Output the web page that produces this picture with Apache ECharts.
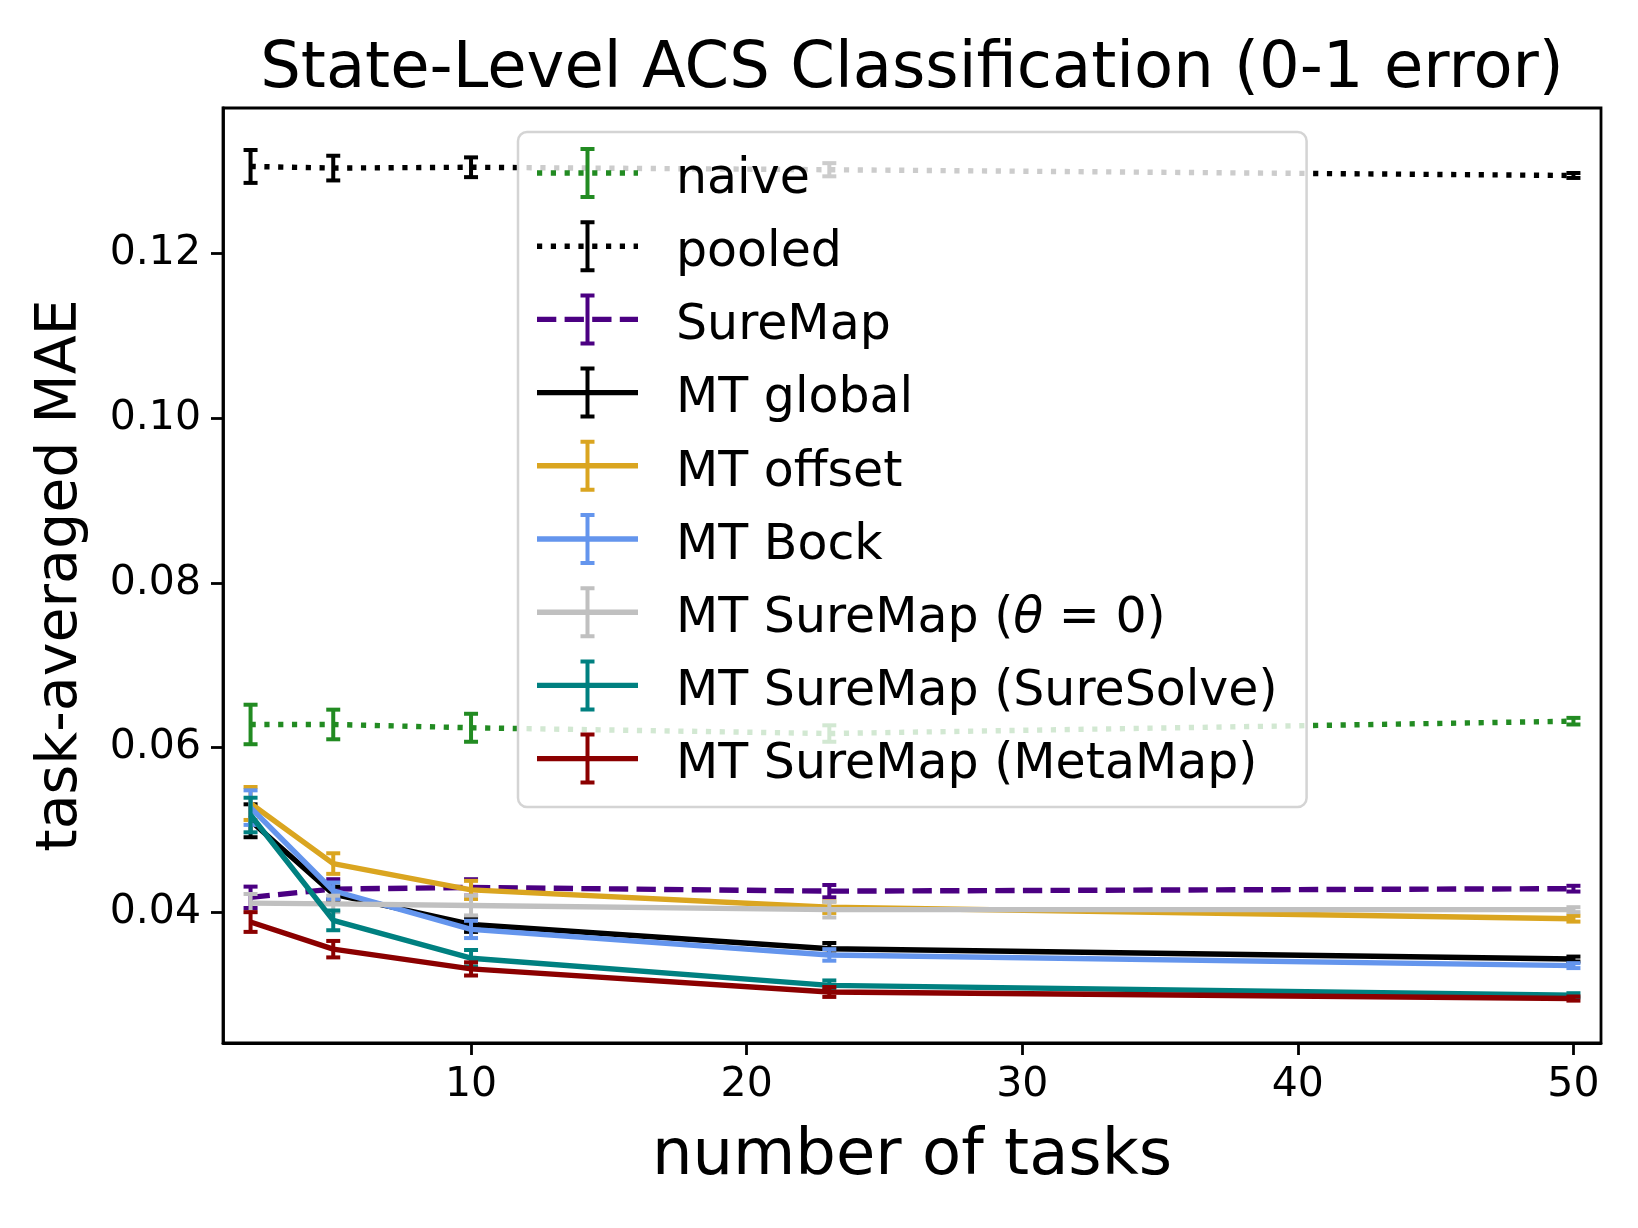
<!DOCTYPE html>
<html>
<head>
<meta charset="utf-8">
<title>State-Level ACS Classification (0-1 error)</title>
<script src="https://cdn.jsdelivr.net/npm/echarts@6/dist/echarts.min.js"></script>
<style>
  html, body { margin: 0; padding: 0; background: #fff; }
  #chart { width: 1638px; height: 1228px; }
</style>
</head>
<body>
<div id="chart"></div>
<script>
// number of tasks
var tasks = [2, 5, 10, 23, 50];
var xTicks = [10, 20, 30, 40, 50];
var yTicks = [0.04, 0.06, 0.08, 0.10, 0.12];

// task-averaged MAE (mean) and error bar half-widths
var naive      = [0.0628, 0.0628, 0.0624, 0.0617, 0.0632];
var naiveErr   = [0.0024, 0.0018, 0.0017, 0.0010, 0.0004];
var pooled     = [0.1306, 0.1304, 0.1305, 0.1302, 0.1295];
var pooledErr  = [0.0020, 0.0015, 0.0012, 0.0008, 0.0003];
var sureMap    = [0.0418, 0.0428, 0.0430, 0.04255, 0.04285];
var sureMapErr = [0.0013, 0.0012, 0.0010, 0.00075, 0.00035];
var mtGlobal   = [0.0511, 0.0422, 0.0385, 0.03555, 0.0343];
var mtGlobalErr= [0.0020, 0.0009, 0.0009, 0.0007, 0.0003];
var mtOffset   = [0.0532, 0.0459, 0.0427, 0.0406, 0.0392];
var mtOffsetErr= [0.0020, 0.00125, 0.0011, 0.0007, 0.00035];
var mtBock     = [0.0527, 0.0426, 0.0379, 0.0348, 0.0335];
var mtBockErr  = [0.0021, 0.0010, 0.00105, 0.0007, 0.0003];
var mtZero     = [0.0411, 0.0410, 0.0408, 0.0403, 0.0403];
var mtZeroErr  = [0.0011, 0.0010, 0.0012, 0.00095, 0.0003];
var mtSolve    = [0.0518, 0.0390, 0.0344, 0.0311, 0.0299];
var mtSolveErr = [0.0021, 0.0012, 0.0010, 0.0006, 0.00025];
var mtMeta     = [0.0388, 0.0355, 0.0331, 0.0303, 0.0295];
var mtMetaErr  = [0.0012, 0.0010, 0.0008, 0.0006, 0.00025];

var methods = [
  { name: 'naive',                     mean: naive,    err: naiveErr,    color: '#228B22', dash: 'dotted' },
  { name: 'pooled',                    mean: pooled,   err: pooledErr,   color: '#000000', dash: 'dotted' },
  { name: 'SureMap',                   mean: sureMap,  err: sureMapErr,  color: '#4B0082', dash: 'dashed' },
  { name: 'MT global',                 mean: mtGlobal, err: mtGlobalErr, color: '#000000', dash: 'solid' },
  { name: 'MT offset',                 mean: mtOffset, err: mtOffsetErr, color: '#DAA520', dash: 'solid' },
  { name: 'MT Bock',                   mean: mtBock,   err: mtBockErr,   color: '#6495ED', dash: 'solid' },
  { name: 'MT SureMap (θ = 0)',        mean: mtZero,   err: mtZeroErr,   color: '#C0C0C0', dash: 'solid' },
  { name: 'MT SureMap (SureSolve)',    mean: mtSolve,  err: mtSolveErr,  color: '#008080', dash: 'solid' },
  { name: 'MT SureMap (MetaMap)',      mean: mtMeta,   err: mtMetaErr,   color: '#8B0000', dash: 'solid' }
];

var FONT = 'DejaVu Sans';
var LW = 5.4;
var DOT = [5.2, 8.6];
var DASH = [19.3, 8.3];

// legend handle: line segments + error bar, drawn in a 101x52 box
function handlePath(dash) {
  var p = '';
  if (dash === 'solid') {
    p += 'M0,23.3h101v5.4h-101z ';
  } else {
    var pat = dash === 'dotted' ? DOT : DASH;
    for (var x = 0; x < 101; x += pat[0] + pat[1]) {
      var w = Math.min(pat[0], 101 - x);
      p += 'M' + x + ',23.3h' + w + 'v5.4h-' + w + 'z ';
    }
  }
  p += 'M48.5,0h4v52h-4z M43.5,0h14v4h-14z M43.5,48h14v4h-14z';
  return 'path://' + p;
}

function errRender(color) {
  return function (params, api) {
    var x = api.value(0);
    var lo = api.coord([x, api.value(1)]);
    var hi = api.coord([x, api.value(2)]);
    var cap = 7;
    var st = { stroke: color, lineWidth: 4 };
    return {
      type: 'group',
      children: [
        { type: 'line', shape: { x1: lo[0], y1: lo[1], x2: hi[0], y2: hi[1] }, style: st },
        { type: 'line', shape: { x1: lo[0] - cap, y1: lo[1], x2: lo[0] + cap, y2: lo[1] }, style: st },
        { type: 'line', shape: { x1: hi[0] - cap, y1: hi[1], x2: hi[0] + cap, y2: hi[1] }, style: st }
      ]
    };
  };
}

var series = [];
var legendData = [];
methods.forEach(function (m, i) {
  var lineData = tasks.map(function (t, j) { return [t, m.mean[j]]; });
  var errData = tasks.map(function (t, j) { return [t, m.mean[j] - m.err[j], m.mean[j] + m.err[j]]; });
  series.push({
    name: m.name,
    type: 'line',
    data: lineData,
    symbol: 'none',
    showSymbol: false,
    z: 10 + i,
    color: m.color,
    lineStyle: {
      color: m.color,
      width: LW,
      type: m.dash === 'solid' ? 'solid' : (m.dash === 'dotted' ? DOT : DASH),
      cap: 'butt'
    },
    itemStyle: { color: m.color },
    animation: false
  });
  series.push({
    name: m.name,
    type: 'custom',
    data: errData,
    encode: { x: 0, y: [1, 2] },
    renderItem: errRender(m.color),
    z: 10 + i,
    itemStyle: { color: m.color },
    animation: false
  });
  legendData.push({ name: m.name, icon: handlePath(m.dash) });
});

var chart = echarts.init(document.getElementById('chart'), null, { renderer: 'canvas' });
chart.setOption({
  backgroundColor: '#ffffff',
  animation: false,
  textStyle: { fontFamily: FONT },
  title: {
    text: 'State-Level ACS Classification (0-1 error)',
    left: 907,
    textAlign: 'center',
    top: 33,
    textStyle: { fontFamily: FONT, fontSize: 64, fontWeight: 'normal', color: '#000' }
  },
  grid: {
    left: 223, top: 108, width: 1378, height: 935,
    show: true, borderColor: '#000', borderWidth: 2.8, backgroundColor: 'transparent'
  },
  legend: {
    data: legendData,
    orient: 'vertical',
    left: 518,
    top: 132,
    padding: [15, 29, 17, 19],
    itemWidth: 101,
    itemHeight: 52,
    itemGap: 15.7,
    backgroundColor: 'rgba(255,255,255,0.8)',
    borderColor: '#d4d4d4',
    borderWidth: 2.5,
    borderRadius: 9,
    z: 100,
    itemStyle: { borderWidth: 0 },
    selectedMode: false,
    formatter: function (name) {
      if (name === 'MT SureMap (θ = 0)') return 'MT SureMap ({i|θ} = 0)';
      return name;
    },
    textStyle: {
      fontFamily: FONT, fontSize: 49, color: '#000',
      padding: [14, 0, 0, 33],
      rich: { i: { fontFamily: FONT, fontSize: 49, fontStyle: 'italic', color: '#000' } }
    }
  },
  xAxis: {
    type: 'value',
    min: 1,
    max: 51,
    name: 'number of tasks',
    nameLocation: 'middle',
    nameGap: 82,
    nameTextStyle: { fontFamily: FONT, fontSize: 64, color: '#000' },
    axisLine: { show: true, onZero: false, lineStyle: { color: '#000', width: 2.8 } },
    axisTick: { show: true, customValues: xTicks, length: 12, lineStyle: { color: '#000', width: 2.8 } },
    axisLabel: { customValues: xTicks, fontFamily: FONT, fontSize: 41, color: '#000', margin: 22 },
    splitLine: { show: false }
  },
  yAxis: {
    type: 'value',
    min: 0.0241,
    max: 0.1377,
    name: 'task-averaged MAE',
    nameLocation: 'middle',
    nameGap: 133,
    nameTextStyle: { fontFamily: FONT, fontSize: 57, color: '#000' },
    axisLine: { show: true, onZero: false, lineStyle: { color: '#000', width: 2.8 } },
    axisTick: { show: true, customValues: yTicks, length: 12, lineStyle: { color: '#000', width: 2.8 } },
    axisLabel: {
      customValues: yTicks, fontFamily: FONT, fontSize: 41, color: '#000', margin: 22,
      formatter: function (v) { return v.toFixed(2); }
    },
    splitLine: { show: false }
  },
  series: series
});
</script>
</body>
</html>
